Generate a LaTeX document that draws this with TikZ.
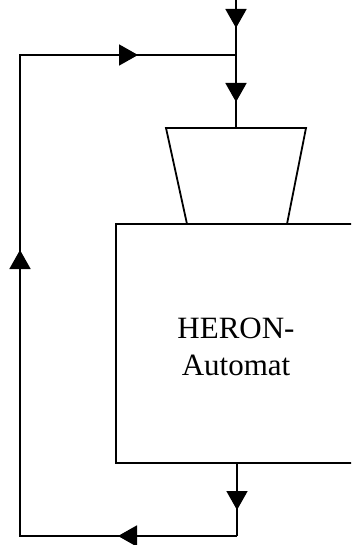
\documentclass[tikz,border=0pt]{standalone}
\usepackage{fontspec}
\setmainfont{Liberation Serif}
\usetikzlibrary{arrows.meta,decorations.markings}
\tikzset{
  tip/.tip={Triangle[length=19pt,width=21pt]},
  wire/.style={line width=1.8pt, line join=miter},
  arrowat/.style={postaction={decorate, decoration={markings, mark=at position #1 with {\arrow{tip}}}}},
  blockline/.style={line width=1.8pt, line join=miter},
  lbl/.style={font=\fontsize{31}{37}\selectfont, align=center, inner sep=0pt}
}
\begin{document}
\begin{tikzpicture}[x=1pt,y=-1pt]
\clip (0,0) rectangle (351,545);
% coordinates
\coordinate (in) at (236,0);
\coordinate (j) at (236,55);
\coordinate (tl) at (20,55);
\coordinate (bl) at (20,536);
\coordinate (br) at (237,536);
\coordinate (mt) at (236,128);
\coordinate (m1) at (166,128);
\coordinate (m2) at (306,128);
\coordinate (m3) at (287,224);
\coordinate (m4) at (187,224);
\coordinate (bo) at (237,463);
% multiplexer (trapezium)
\draw[blockline] (m1) -- (m2) -- (m3) -- (m4) -- cycle;
% HERON block
\draw[blockline] (116,224) rectangle (420,463);
\node[lbl, anchor=base] (heron) at (236,375) {HERON-\\Automat};
% input
\draw[wire, arrowat=28pt, arrowat=102pt] (in) -- (mt);
% output
\draw[wire, arrowat=47pt] (bo) -- (br);
% feedback
\draw[wire, arrowat=119pt, arrowat=503pt, arrowat=816pt]
  (br) -- (bl) -- (tl) -- (j);
\end{tikzpicture}
\end{document}
